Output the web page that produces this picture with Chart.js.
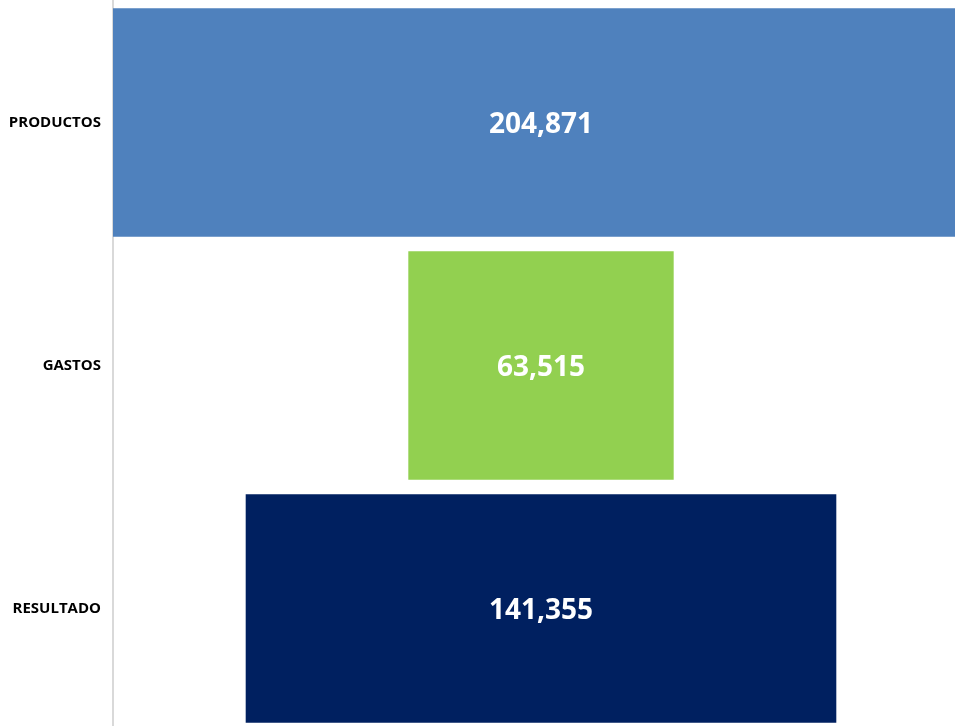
<!DOCTYPE html>
<html>
<head>
<meta charset="utf-8">
<script src="https://cdn.jsdelivr.net/npm/chart.js@4"></script>
<style>
  html, body { margin: 0; padding: 0; background: #fff; overflow: hidden; }
  #wrap { width: 969px; height: 730px; }
</style>
</head>
<body>
<div id="wrap"><canvas id="myChart" width="969" height="730"></canvas></div>
<script>
'use strict'

const categorias = ['PRODUCTOS', 'GASTOS', 'RESULTADO'];
const valores = [204871, 63515, 141355];
const colores = ['#4F81BD', '#92D050', '#002060'];

// barras flotantes centradas en cero -> embudo
const tramos = valores.map(v => [-v / 2, v / 2]);
const maximo = Math.max(...valores) / 2;

const etiquetas = {
  id: 'etiquetas',
  afterDatasetsDraw(chart) {
    const c = chart.ctx;
    const meta = chart.getDatasetMeta(0);
    c.save();
    c.fillStyle = '#ffffff';
    c.font = 'bold 28px "Open Sans"';
    c.textAlign = 'center';
    c.textBaseline = 'middle';
    meta.data.forEach((bar, i) => {
      let x = (bar.x + bar.base) / 2;
      c.fillText(valores[i].toLocaleString('en-US'), x, bar.y + 3);
    });
    c.restore();
  }
};

let ctx = document.getElementById('myChart');

new Chart(ctx, {
  type: 'bar',
  data: {
    labels: categorias,
    datasets: [{
      data: tramos,
      backgroundColor: colores,
      barPercentage: 0.94,
      categoryPercentage: 1
    }]
  },
  options: {
    indexAxis: 'y',
    responsive: false,
    animation: false,
    layout: { padding: { top: 1, right: 0, bottom: 0, left: 0 } },
    plugins: {
      legend: { display: false },
      tooltip: { enabled: false }
    },
    scales: {
      x: {
        display: false,
        min: -maximo,
        max: maximo
      },
      y: {
        grid: { display: false, drawTicks: false },
        border: { display: true, color: '#d9d9d9', width: 2 },
        ticks: {
          padding: 12,
          color: '#000000',
          font: { family: '"Open Sans"', size: 15, weight: 'bold' }
        },
        afterFit(scale) {
          scale.width = 113;
          scale.paddingTop = 0;
          scale.paddingBottom = 0;
        }
      }
    }
  },
  plugins: [etiquetas]
});
</script>
</body>
</html>
